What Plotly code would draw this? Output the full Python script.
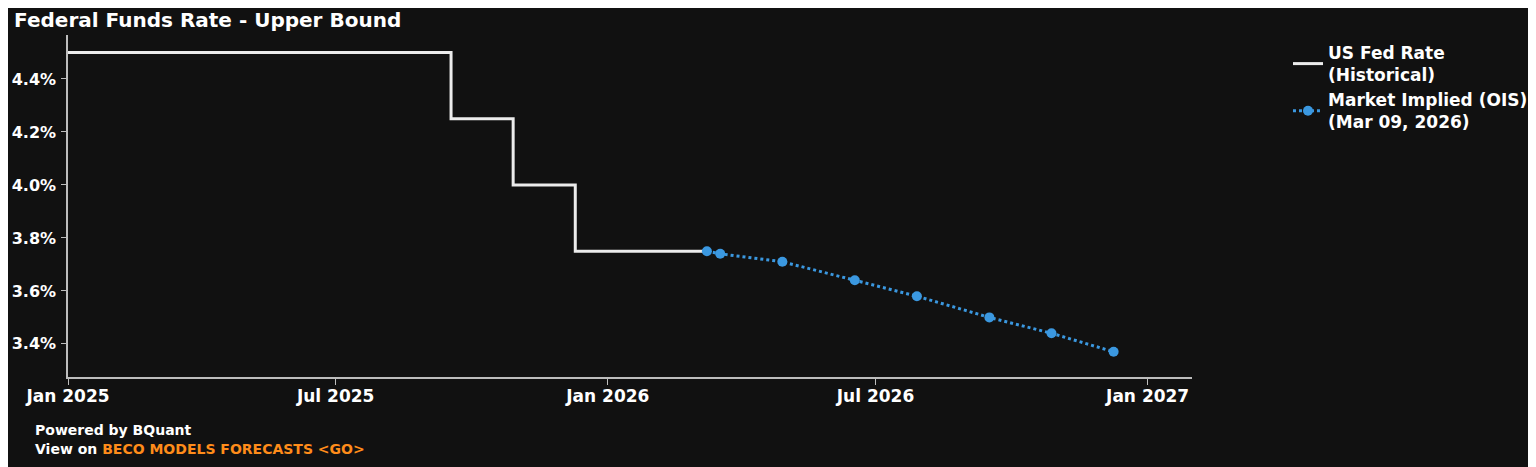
import plotly.graph_objects as go

hist_dates = ["2025-01-01", "2025-09-17", "2025-10-29", "2025-12-10", "2026-03-09"]
hist_rates = [4.50, 4.25, 4.00, 3.75, 3.75]

ois_dates = ["2026-03-09", "2026-03-18", "2026-04-29", "2026-06-17",
             "2026-07-29", "2026-09-16", "2026-10-28", "2026-12-09"]
ois_rates = [3.75, 3.74, 3.71, 3.64, 3.58, 3.50, 3.44, 3.37]

x_ticks = ["2025-01-01", "2025-07-01", "2026-01-01", "2026-07-01", "2027-01-01"]
x_tick_labels = ["Jan 2025", "Jul 2025", "Jan 2026", "Jul 2026", "Jan 2027"]
y_ticks = [3.4, 3.6, 3.8, 4.0, 4.2, 4.4]
y_tick_labels = ["3.4%", "3.6%", "3.8%", "4.0%", "4.2%", "4.4%"]

FONT = "DejaVu Sans"
BG = "#111111"
BLUE = "#3b98e0"
AXIS = "#bdbdbd"

fig = go.Figure()
fig.add_trace(go.Scatter(
    x=hist_dates, y=hist_rates, mode="lines", line_shape="hv",
    line=dict(color="#ececec", width=3),
    name="<b>US Fed Rate<br>(Historical)</b>",
))
fig.add_trace(go.Scatter(
    x=ois_dates, y=ois_rates, mode="lines+markers",
    line=dict(color=BLUE, width=3, dash="dot"),
    marker=dict(color=BLUE, size=10),
    name="<b>Market Implied (OIS)<br>(Mar 09, 2026)</b>",
))

fig.update_layout(
    width=1528, height=459,
    paper_bgcolor=BG, plot_bgcolor=BG,
    margin=dict(l=60, r=344, t=27, b=90, autoexpand=False),
    font=dict(family=FONT, color="white", size=16),
    title=dict(text="<b>Federal Funds Rate - Upper Bound</b>", x=0.004, xanchor="left",
               y=0.9739, yanchor="middle",
               font=dict(size=20, family=FONT, color="white")),
    showlegend=True,
    legend=dict(x=1.0854, xanchor="left", y=1.0, yanchor="top",
                font=dict(size=17, family=FONT, color="white"),
                bgcolor="rgba(0,0,0,0)"),
    xaxis=dict(
        type="date", range=["2025-01-01", "2027-01-31"],
        tickvals=x_ticks, ticktext=[f"<b>{t}</b>" for t in x_tick_labels],
        showgrid=False, zeroline=False, showline=True, linecolor=AXIS, linewidth=1.5,
        ticks="outside", ticklen=6, tickcolor=AXIS, ticklabelstandoff=-3,
        tickfont=dict(size=17, family=FONT, color="white"),
    ),
    yaxis=dict(
        range=[3.275, 4.566],
        tickvals=y_ticks, ticktext=[f"<b>{t}</b>" for t in y_tick_labels],
        showgrid=False, zeroline=False, showline=True, linecolor=AXIS, linewidth=1.5,
        ticks="outside", ticklen=5, tickcolor=AXIS, ticklabelstandoff=2,
        tickfont=dict(size=16, family=FONT, color="white"),
    ),
    annotations=[
        dict(text="<b>Powered by BQuant</b>", xref="paper", yref="paper",
             x=-0.0311, y=-0.155, xanchor="left", yanchor="middle", showarrow=False,
             font=dict(size=14, family=FONT, color="white")),
        dict(text="<b>View on <span style='color:#ff8c1a'>BECO MODELS FORECASTS &lt;GO&gt;</span></b>",
             xref="paper", yref="paper",
             x=-0.0311, y=-0.2105, xanchor="left", yanchor="middle", showarrow=False,
             font=dict(size=14, family=FONT, color="white")),
    ],
)

fig.write_html("out.html")
